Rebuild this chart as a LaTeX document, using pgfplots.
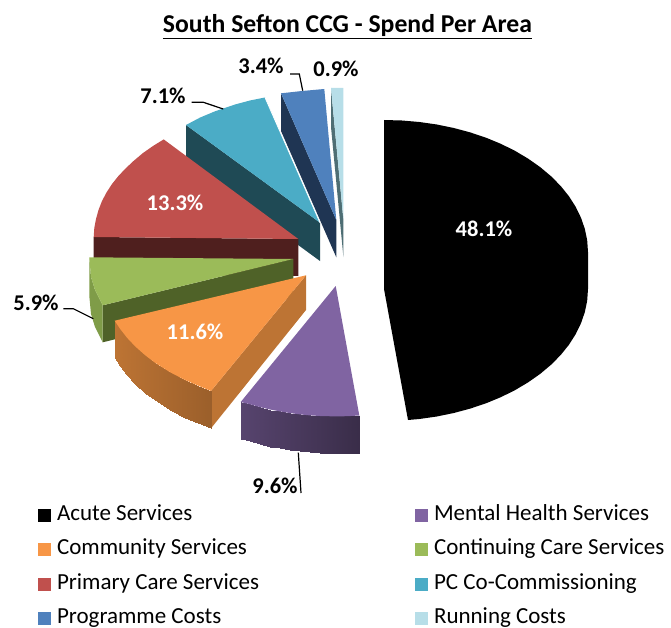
\documentclass[border=0pt]{standalone}
\usepackage{fontspec}
\setmainfont{Carlito}
\usepackage{pgfplots}
\pgfplotsset{compat=1.18}

% slice colours: top faces
\definecolor{acute}{HTML}{000000}
\definecolor{mental}{HTML}{8064A2}
\definecolor{community}{HTML}{F79646}
\definecolor{continuing}{HTML}{9BBB59}
\definecolor{primary}{HTML}{C0504D}
\definecolor{cocomm}{HTML}{4BACC6}
\definecolor{programme}{HTML}{4F81BD}
\definecolor{running}{HTML}{B7DEE8}
% slice colours: side walls
\definecolor{primaryside}{HTML}{4F1F1E}
\definecolor{continuingside}{HTML}{4F6228}
\definecolor{continuingrim}{HTML}{7F9C48}
\definecolor{communityside}{HTML}{BD7434}
\definecolor{cocommside}{HTML}{1F4A55}
\definecolor{programmeside}{HTML}{1F3553}
\definecolor{runningside}{HTML}{4E6E74}

\pgfplotsset{
  face/.style={forget plot, draw=none, fill=#1},
  rim/.style={forget plot, patch, patch type=rectangle, shader=interp, point meta=explicit},
  leader/.style={forget plot, black, line width=1.2pt, mark=none},
}

\begin{document}
\begin{tikzpicture}
\begin{axis}[
  hide axis,
  scale only axis,
  width=671pt, height=628pt,
  xmin=0, xmax=671, ymin=0, ymax=628,
  y dir=reverse,
  clip=false,
  point meta min=0, point meta max=1,
  legend columns=2,
  legend cell align=left,
  legend image code/.code={\fill[#1,draw=none] (0pt,-6.5pt) rectangle (13pt,6.5pt);},
  legend style={
    at={(axis cs:38,506.5)}, anchor=north west,
    draw=none, fill=none, inner sep=0pt, outer sep=0pt,
    font=\fontsize{23}{26}\selectfont,
    row sep=16.3pt,
    nodes={inner sep=0pt, text height=14pt, text depth=4pt},
    /tikz/every even column/.append style={column sep=156pt},
    /tikz/every odd column/.append style={column sep=6pt},
  },
]
\addlegendimage{fill=acute}\addlegendentry{Acute Services}
\addlegendimage{fill=mental}\addlegendentry{Mental Health Services}
\addlegendimage{fill=community}\addlegendentry{Community Services}
\addlegendimage{fill=continuing}\addlegendentry{Continuing Care Services}
\addlegendimage{fill=primary}\addlegendentry{Primary Care Services}
\addlegendimage{fill=cocomm}\addlegendentry{PC Co-Commissioning}
\addlegendimage{fill=programme}\addlegendentry{Programme Costs}
\addlegendimage{fill=running}\addlegendentry{Running Costs}

% page frame of the drawing
\path (axis cs:0,0) rectangle (axis cs:671,628);

% Acute Services 48.1%
\addplot[face=acute] coordinates {
 (384,120) (401.8,120.5) (419.4,122) (436.8,124.5) (453.8,128) (470.2,132.4)
 (486,137.7) (501,143.9) (515.1,150.9) (528.2,158.7) (540.3,167.2) (551.1,176.3)
 (560.7,186) (568.9,196.2) (575.7,206.9) (581,217.8) (584.9,229.1) (587.2,240.5)
 (588,252) (588,289) (587.2,300.5) (584.9,311.9) (581,323.2)
 (575.7,334.1) (568.9,344.8) (560.7,355) (551.1,364.7) (540.3,373.8)
 (528.2,382.3) (515.1,390.1) (501,397.1) (486,403.3) (470.2,408.6)
 (453.8,413) (436.8,416.5) (419.4,419) (408,420) (384,289)} --cycle;

% Running Costs 0.9%
\addplot[face=runningside] coordinates {(331,88) (343.4,220) (343.4,257) (331,127)} --cycle;
\addplot[face=running] coordinates {(331,88) (343.4,88) (343.4,220)} --cycle;

% Programme Costs 3.4%
\addplot[face=programmeside] coordinates {(281,93.3) (336.3,220) (336.3,257.3) (281,131)} --cycle;
\addplot[face=programme] coordinates {(281,93.3) (302,91) (324.3,89) (336.3,220)} --cycle;

% PC Co-Commissioning 7.1%
\addplot[face=cocommside] coordinates {(186,125) (320,222.7) (320,261) (186,163)} --cycle;
\addplot[face=cocomm] coordinates {(186,125) (200,117.6) (215,111.3) (235,104.5) (250,100.5) (265,97.5) (320,222.7)} --cycle;
\addplot[forget plot, white, line width=0.8pt] coordinates {(265,97.5) (320,222.7)};

% Primary Care Services 13.3%
\addplot[face=primaryside] coordinates {(93.7,237) (298.3,239) (298.3,276) (93.7,275)} --cycle;
\addplot[face=primary] coordinates {(93.7,237) (94.3,228) (96,219) (98.5,210) (102,201) (106.5,192.5) (112,184) (118,176.5) (125,169) (133.5,161) (143,153) (153,146) (163.7,139.4) (298.3,239)} --cycle;

% Continuing Care Services 5.9%
\addplot[face=continuingside] coordinates {(293.3,259) (102.7,305.3) (102.7,342.3) (293.3,296)} --cycle;
\addplot[face=continuingrim] coordinates {(89.3,257.3) (91,277) (95,290) (102.7,305.3) (102.7,342.3) (95,327) (91,314) (89.3,296)} --cycle;
\addplot[face=continuing] coordinates {(89.3,257.3) (293.3,259) (102.7,305.3) (95,290) (91,277)} --cycle;

% Community Services 11.6%
\addplot[face=communityside] coordinates {(306,275.3) (211,391) (211,428.3) (306,310)} --cycle;
\addplot[rim, colormap={communityrim}{color=(communityside!100!white) color=(communityside!82!black)}] table[meta=m] {
x y m
114.7 320.7 0.00
120 328.7 0.05
120 366.2 0.05
114.7 358.3 0.00
120 328.7 0.05
127 337.7 0.13
127 375.2 0.13
120 366.2 0.05
127 337.7 0.13
135 346.2 0.21
135 383.7 0.21
127 375.2 0.13
135 346.2 0.21
145 355.1 0.32
145 392.6 0.32
135 383.7 0.21
145 355.1 0.32
155 362.7 0.42
155 400.2 0.42
145 392.6 0.32
155 362.7 0.42
170 372.2 0.58
170 409.7 0.58
155 400.2 0.42
170 372.2 0.58
185 380 0.73
185 417.5 0.73
170 409.7 0.58
185 380 0.73
198 385.6 0.86
198 423.1 0.86
185 417.5 0.73
198 385.6 0.86
211 391 1.00
211 428.3 1.00
198 423.1 0.86
};
\addplot[face=community] coordinates {(306,275.3) (114.7,320.7) (120,328.7) (127,337.7) (135,346.2) (145,355.1) (155,362.7) (170,372.2) (185,380) (198,385.6) (211,391)} --cycle;

% Mental Health Services 9.6%
\addplot[rim, colormap={mentalrim}{color=(mental!68!black) color=(mental!45!black)}] table[meta=m] {
x y m
240.7 402 0.00
250 404.3 0.08
250 441.3 0.08
240.7 439.3 0.00
250 404.3 0.08
260 407.1 0.16
260 444.1 0.16
250 441.3 0.08
260 407.1 0.16
270 409.5 0.25
270 446.5 0.25
260 444.1 0.16
270 409.5 0.25
280 411.4 0.33
280 448.4 0.33
270 446.5 0.25
280 411.4 0.33
290 413.1 0.42
290 450.1 0.42
280 448.4 0.33
290 413.1 0.42
300 414.4 0.50
300 451.4 0.50
290 450.1 0.42
300 414.4 0.50
310 415.4 0.58
310 452.4 0.58
300 451.4 0.50
310 415.4 0.58
320 416 0.66
320 453 0.66
310 452.4 0.58
320 416 0.66
335.7 416.4 0.80
335.7 453.4 0.80
320 453 0.66
335.7 416.4 0.80
347 416.2 0.90
347 453.2 0.90
335.7 453.4 0.80
347 416.2 0.90
359.3 415.5 1.00
359.3 452.7 1.00
347 453.2 0.90
};
\addplot[face=mental] coordinates {(335.7,286) (240.7,402) (250,404.3) (260,407.1) (270,409.5) (280,411.4) (290,413.1) (300,414.4) (310,415.4) (320,416) (335.7,416.4) (347,416.2) (359.3,415.5)} --cycle;

% leader lines
\addplot[leader] coordinates {(290,74) (299.3,74) (302.7,90.7)};
\addplot[leader] coordinates {(191.7,102.3) (203.3,102.3) (223.3,109)};
\addplot[leader] coordinates {(63.3,308.7) (73.3,308.7) (93.3,318.7)};
\addplot[leader] coordinates {(298.3,452.7) (301,493)};

% title and data labels
\node[font=\fontsize{25.7}{28}\selectfont\bfseries] at (axis cs:347.5,26.5) {\underline{South Sefton CCG - Spend Per Area}};
\begin{scope}[every node/.style={font=\fontsize{22.5}{26}\selectfont\bfseries}]
\node[white] at (axis cs:484,229) {48.1\%};
\node[white] at (axis cs:175,203) {13.3\%};
\node[white] at (axis cs:195,332) {11.6\%};
\node at (axis cs:261,66) {3.4\%};
\node at (axis cs:336,69) {0.9\%};
\node at (axis cs:163,96) {7.1\%};
\node at (axis cs:36,303) {5.9\%};
\node at (axis cs:275,486) {9.6\%};
\end{scope}
\end{axis}
\end{tikzpicture}
\end{document}
